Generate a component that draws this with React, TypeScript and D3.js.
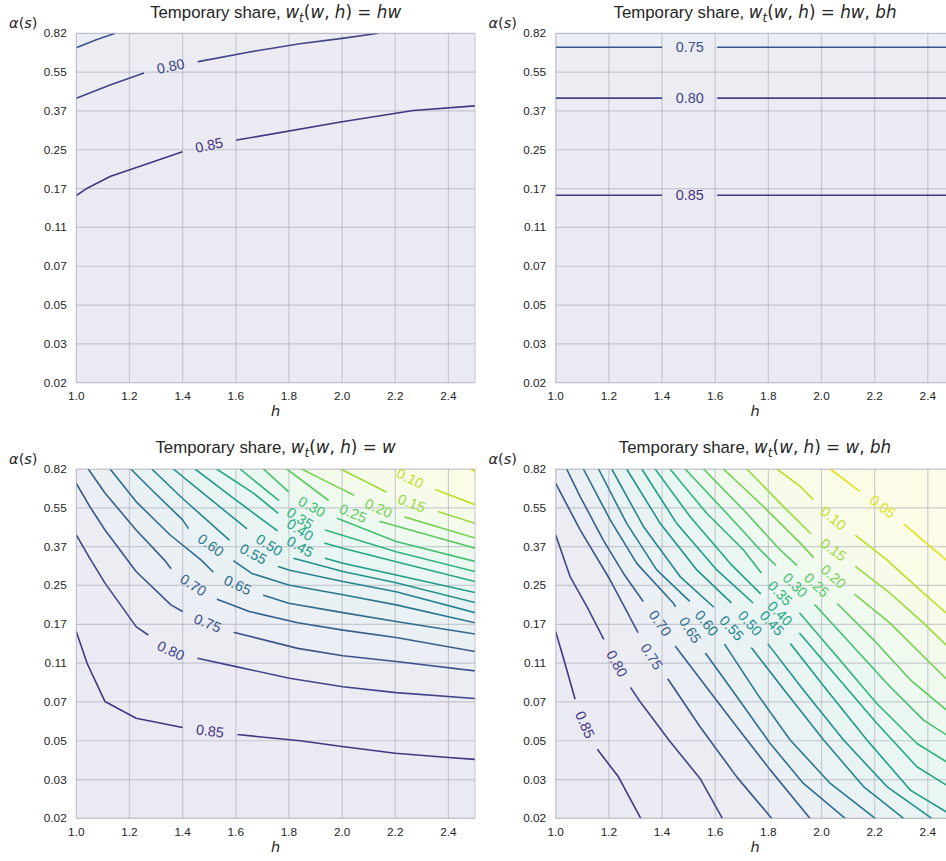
import * as d3 from 'd3';

type Pt = [number, number];
interface ContourLine {
  level: number;
  pts: Pt[];
  label?: Pt;
}

// x axis: h, y axis: position on the alpha(s) grid (10 points)
const hTicks = [1.0, 1.2, 1.4, 1.6, 1.8, 2.0, 2.2, 2.4];
const hDomain: [number, number] = [1.0, 2.5];
const alphaTickLabels = ['0.02', '0.03', '0.05', '0.07', '0.11', '0.17', '0.25', '0.37', '0.55', '0.82'];

// contour lines, points are [h, alpha grid position]
const linesHW: ContourLine[] = [
  { level: 0.75, pts: [[1.0, 8.63], [1.07, 8.82], [1.146, 9.0]] },
  { level: 0.8, pts: [[1.0, 7.33], [1.127, 7.67], [1.252, 7.97], [1.355, 8.15], [1.459, 8.27], [1.652, 8.52], [1.841, 8.73], [2.0, 8.87], [2.137, 9.0]], label: [1.355, 8.15] },
  { level: 0.85, pts: [[1.0, 4.82], [1.041, 5.01], [1.127, 5.31], [1.4, 5.95], [1.5, 6.12], [1.604, 6.25], [2.0, 6.72], [2.268, 7.01], [2.5, 7.13]], label: [1.5, 6.12] },
];

const linesHWBH: ContourLine[] = [
  { level: 0.75, pts: [[1.0, 8.64], [2.5, 8.64]], label: [1.504, 8.64] },
  { level: 0.8, pts: [[1.0, 7.33], [2.5, 7.33]], label: [1.504, 7.33] },
  { level: 0.85, pts: [[1.0, 4.83], [2.5, 4.83]], label: [1.504, 4.83] },
];

const linesW: ContourLine[] = [
  { level: 0.85, pts: [[1.0, 4.81], [1.041, 3.99], [1.108, 3.01], [1.225, 2.58], [1.4, 2.34], [1.503, 2.25], [1.606, 2.16], [1.842, 2.0], [2.0, 1.85], [2.2, 1.68], [2.4, 1.57], [2.5, 1.52]], label: [1.503, 2.25] },
  { level: 0.8, pts: [[1.0, 7.3], [1.051, 6.7], [1.108, 6.06], [1.225, 4.94], [1.269, 4.73], [1.356, 4.32], [1.46, 4.12], [1.601, 3.91], [1.802, 3.61], [2.003, 3.39], [2.203, 3.24], [2.5, 3.09]], label: [1.356, 4.32] },
  { level: 0.75, pts: [[1.0, 8.63], [1.051, 8.03], [1.108, 7.43], [1.225, 6.36], [1.356, 5.5], [1.4, 5.33], [1.494, 5.03], [1.595, 4.79], [1.833, 4.38], [2.003, 4.19], [2.203, 4.04], [2.5, 3.8]], label: [1.494, 5.03] },
  { level: 0.7, pts: [[1.045, 9.0], [1.108, 8.38], [1.225, 7.43], [1.331, 6.66], [1.356, 6.44], [1.44, 6.01], [1.532, 5.64], [1.651, 5.33], [1.833, 5.04], [2.003, 4.85], [2.203, 4.66], [2.5, 4.3]], label: [1.44, 6.01] },
  { level: 0.65, pts: [[1.127, 9.0], [1.225, 8.16], [1.353, 7.3], [1.469, 6.66], [1.513, 6.36], [1.607, 6.01], [1.708, 5.74], [1.799, 5.54], [2.003, 5.3], [2.203, 5.07], [2.5, 4.75]], label: [1.607, 6.01] },
  { level: 0.6, pts: [[1.205, 9.0], [1.29, 8.42], [1.4, 7.69], [1.422, 7.47], [1.506, 7.04], [1.595, 6.62], [1.66, 6.31], [1.799, 6.01], [2.003, 5.76], [2.203, 5.5], [2.5, 5.04]], label: [1.506, 7.04] },
  { level: 0.55, pts: [[1.284, 9.0], [1.4, 8.24], [1.576, 7.17], [1.666, 6.81], [1.76, 6.49], [1.799, 6.4], [2.003, 6.1], [2.203, 5.84], [2.5, 5.3]], label: [1.666, 6.81] },
  { level: 0.5, pts: [[1.365, 9.0], [1.516, 8.16], [1.647, 7.43], [1.726, 7.04], [1.817, 6.7], [2.003, 6.36], [2.203, 6.07], [2.5, 5.56]], label: [1.726, 7.04] },
  { level: 0.45, pts: [[1.447, 9.0], [1.591, 8.25], [1.76, 7.39], [1.842, 7.0], [1.936, 6.7], [2.003, 6.57], [2.203, 6.27], [2.5, 5.82]], label: [1.842, 7.0] },
  { level: 0.4, pts: [[1.528, 9.0], [1.666, 8.38], [1.767, 7.82], [1.842, 7.43], [1.936, 7.09], [2.003, 6.96], [2.203, 6.61], [2.5, 6.1]], label: [1.842, 7.43] },
  { level: 0.35, pts: [[1.616, 9.0], [1.767, 8.16], [1.842, 7.73], [1.936, 7.43], [2.203, 6.87], [2.5, 6.36]], label: [1.842, 7.73] },
  { level: 0.3, pts: [[1.704, 9.0], [1.804, 8.38], [1.886, 8.03], [1.981, 7.73], [2.203, 7.13], [2.5, 6.62]], label: [1.886, 8.03] },
  { level: 0.25, pts: [[1.792, 9.0], [1.955, 8.16], [2.041, 7.86], [2.143, 7.65], [2.344, 7.26], [2.5, 6.96]], label: [2.041, 7.86] },
  { level: 0.2, pts: [[1.848, 9.0], [1.955, 8.63], [2.043, 8.33], [2.137, 7.99], [2.237, 7.76], [2.5, 7.22]], label: [2.137, 7.99] },
  { level: 0.15, pts: [[1.995, 9.0], [2.162, 8.42], [2.262, 8.12], [2.363, 7.9], [2.5, 7.6]], label: [2.262, 8.12] },
  { level: 0.1, pts: [[2.193, 9.0], [2.256, 8.76], [2.356, 8.46], [2.5, 8.08]], label: [2.256, 8.76] },
  { level: 0.05, pts: [[2.485, 9.0], [2.5, 8.93]] },
];

const linesWBH: ContourLine[] = [
  { level: 0.85, pts: [[1.0, 4.81], [1.035, 3.99], [1.073, 3.07], [1.11, 2.41], [1.161, 1.74], [1.236, 1.07], [1.32, 0.0]], label: [1.11, 2.41] },
  { level: 0.8, pts: [[1.0, 7.3], [1.054, 6.23], [1.117, 5.46], [1.179, 4.64], [1.23, 3.99], [1.282, 3.37], [1.317, 3.01], [1.43, 1.98], [1.543, 1.03], [1.627, 0.0]], label: [1.23, 3.99] },
  { level: 0.75, pts: [[1.0, 8.63], [1.092, 7.43], [1.205, 6.14], [1.311, 4.77], [1.361, 4.17], [1.424, 3.57], [1.543, 2.36], [1.681, 1.07], [1.813, 0.0]], label: [1.361, 4.17] },
  { level: 0.7, pts: [[1.041, 9.0], [1.092, 8.29], [1.179, 7.17], [1.255, 6.31], [1.33, 5.58], [1.393, 5.03], [1.453, 4.41], [1.556, 3.48], [1.681, 2.36], [1.807, 1.25], [1.957, 0.0]], label: [1.393, 5.03] },
  { level: 0.65, pts: [[1.104, 9.0], [1.205, 7.69], [1.305, 6.57], [1.443, 5.54], [1.506, 4.85], [1.562, 4.27], [1.681, 3.14], [1.807, 1.93], [1.932, 0.9], [2.089, 0.0]], label: [1.506, 4.85] },
  { level: 0.6, pts: [[1.161, 9.0], [1.267, 7.6], [1.38, 6.4], [1.512, 5.54], [1.568, 5.03], [1.637, 4.47], [1.757, 3.22], [1.882, 2.02], [2.033, 0.9], [2.202, 0.0]], label: [1.568, 5.03] },
  { level: 0.55, pts: [[1.211, 9.0], [1.33, 7.52], [1.468, 6.23], [1.606, 5.37], [1.662, 4.9], [1.738, 4.38], [1.87, 3.22], [2.008, 2.02], [2.158, 0.82], [2.309, 0.0]], label: [1.662, 4.9] },
  { level: 0.5, pts: [[1.267, 9.0], [1.393, 7.6], [1.531, 6.4], [1.675, 5.46], [1.731, 5.03], [1.801, 4.47], [1.932, 3.31], [2.083, 2.02], [2.246, 0.82], [2.415, 0.0]], label: [1.731, 5.03] },
  { level: 0.45, pts: [[1.324, 9.0], [1.455, 7.6], [1.606, 6.4], [1.757, 5.46], [1.813, 5.03], [1.882, 4.51], [2.02, 3.31], [2.171, 2.02], [2.334, 0.73], [2.5, 0.04]], label: [1.813, 5.03] },
  { level: 0.4, pts: [[1.374, 9.0], [1.506, 7.77], [1.656, 6.57], [1.794, 5.63], [1.844, 5.28], [1.913, 4.81], [2.058, 3.65], [2.208, 2.45], [2.359, 1.33], [2.5, 0.73]], label: [1.844, 5.28] },
  { level: 0.35, pts: [[1.43, 9.0], [1.568, 7.86], [1.706, 6.92], [1.794, 6.14], [1.844, 5.8], [1.913, 5.33], [2.058, 4.17], [2.208, 2.96], [2.359, 1.93], [2.5, 1.33]], label: [1.844, 5.8] },
  { level: 0.3, pts: [[1.487, 9.0], [1.631, 7.95], [1.769, 6.92], [1.851, 6.36], [1.901, 6.01], [1.97, 5.54], [2.108, 4.51], [2.258, 3.39], [2.384, 2.53], [2.5, 2.02]], label: [1.901, 6.01] },
  { level: 0.25, pts: [[1.556, 9.0], [1.706, 7.95], [1.844, 6.92], [1.932, 6.36], [1.982, 6.01], [2.058, 5.54], [2.196, 4.6], [2.334, 3.57], [2.5, 2.62]], label: [1.982, 6.01] },
  { level: 0.2, pts: [[1.631, 9.0], [1.782, 8.03], [1.92, 7.09], [1.995, 6.53], [2.045, 6.23], [2.12, 5.8], [2.258, 5.03], [2.384, 4.17], [2.5, 3.39]], label: [2.045, 6.23] },
  { level: 0.15, pts: [[1.719, 9.0], [1.844, 8.12], [1.957, 7.35], [1.995, 7.17], [2.045, 6.92], [2.12, 6.53], [2.258, 5.8], [2.384, 5.03], [2.5, 4.26]], label: [2.045, 6.92] },
  { level: 0.1, pts: [[1.832, 9.0], [1.92, 8.55], [1.982, 8.12], [2.045, 7.73], [2.127, 7.3], [2.246, 6.66], [2.371, 5.88], [2.5, 5.11]], label: [2.045, 7.73] },
  { level: 0.05, pts: [[2.033, 9.0], [2.139, 8.45], [2.23, 8.03], [2.309, 7.59], [2.469, 6.66], [2.5, 6.49]], label: [2.23, 8.03] },
];

// title pieces: r = text font, i = math italic, m = math upright, sub = subscript
type Seg = [string, string];
const titleHead: Seg[] = [['Temporary share, ', 'r'], ['w', 'i'], ['t', 'sub'], ['(', 'm'], ['w', 'i'], [', ', 'm'], ['h', 'i'], [')', 'm'], [' = ', 'm']];
const titleHW: Seg[] = [...titleHead, ['hw', 'i']];
const titleHWBH: Seg[] = [...titleHead, ['hw', 'i'], [', ', 'm'], ['bh', 'i']];
const titleW: Seg[] = [...titleHead, ['w', 'i']];
const titleWBH: Seg[] = [...titleHead, ['w', 'i'], [', ', 'm'], ['bh', 'i']];
const alphaLabel: Seg[] = [['α', 'i'], ['(', 'm'], ['s', 'i'], [')', 'm']];

const W = 398.7;
const H = 349.4;
const GAP = 27.5;
const SANS = '"Liberation Sans", Arial, Helvetica, sans-serif';
const MATH = '"DejaVu Sans", sans-serif';
const TXT = '#262626';
const BG = '#eaeaf2';
const GRID = 'rgba(170,170,182,0.55)';

const renderSegs = (segs: Seg[]) => {
  let shifted = false;
  return segs.map(([t, kind], i) => {
    let dy: number | undefined;
    if (kind === 'sub') { dy = 4; shifted = true; }
    else if (shifted) { dy = -4; shifted = false; }
    return (
      <tspan key={i} dy={dy}
        fontFamily={kind === 'r' ? SANS : MATH}
        fontStyle={kind === 'i' || kind === 'sub' ? 'italic' : 'normal'}
        fontSize={kind === 'sub' ? '0.72em' : undefined}>{t}</tspan>
    );
  });
};

// position of a boundary point around the panel, counter-clockwise from bottom-left
const edgeParam = ([h, a]: Pt) => {
  if (Math.abs(a) < 1e-3) return (h - 1) / 1.5;
  if (Math.abs(h - 2.5) < 1e-3) return 1 + a / 9;
  if (Math.abs(a - 9) < 1e-3) return 2 + (2.5 - h) / 1.5;
  return 3 + (9 - a) / 9;
};
const corners: [number, Pt][] = [[1, [2.5, 0]], [2, [2.5, 9]], [3, [1, 9]], [4, [1, 0]], [5, [2.5, 0]], [6, [2.5, 9]], [7, [1, 9]]];

// region where the value is below the line level (upper right side)
const regionBelow = (pts: Pt[]): Pt[] => {
  const te = edgeParam(pts[pts.length - 1]);
  let ts = edgeParam(pts[0]);
  if (ts <= te) ts += 4;
  const extra = corners.filter(([t]) => t > te && t < ts).map(([, c]) => c);
  return [...pts, ...extra];
};

const cutAtLabel = (px: Pt[], lab: Pt) => {
  const cum = [0];
  for (let i = 1; i < px.length; i++) cum.push(cum[i - 1] + Math.hypot(px[i][0] - px[i - 1][0], px[i][1] - px[i - 1][1]));
  let best = Infinity;
  let s0 = 0;
  for (let i = 1; i < px.length; i++) {
    const [x1, y1] = px[i - 1];
    const dx = px[i][0] - x1, dy = px[i][1] - y1;
    const L2 = dx * dx + dy * dy;
    let t = L2 > 0 ? ((lab[0] - x1) * dx + (lab[1] - y1) * dy) / L2 : 0;
    t = Math.max(0, Math.min(1, t));
    const d = Math.hypot(x1 + t * dx - lab[0], y1 + t * dy - lab[1]);
    if (d < best) { best = d; s0 = cum[i - 1] + t * Math.sqrt(L2); }
  }
  const total = cum[cum.length - 1];
  const at = (s: number): Pt => {
    for (let i = 1; i < px.length; i++) {
      if (cum[i] >= s) {
        const seg = cum[i] - cum[i - 1];
        const t = seg > 0 ? (s - cum[i - 1]) / seg : 0;
        return [px[i - 1][0] + t * (px[i][0] - px[i - 1][0]), px[i - 1][1] + t * (px[i][1] - px[i - 1][1])];
      }
    }
    return px[px.length - 1];
  };
  const a = Math.max(0, s0 - GAP), b = Math.min(total, s0 + GAP);
  const pa = at(a), pb = at(b);
  const before = px.filter((_, i) => cum[i] < a).concat([pa]);
  const after = [pb].concat(px.filter((_, i) => cum[i] > b));
  let angle = (Math.atan2(pb[1] - pa[1], pb[0] - pa[0]) * 180) / Math.PI;
  if (angle > 90) angle -= 180;
  if (angle < -90) angle += 180;
  return { parts: [before, after], center: at(s0), angle };
};

const Panel = ({ id, left, top, lines, title }: { id: string; left: number; top: number; lines: ContourLine[]; title: Seg[] }) => {
  const x = d3.scaleLinear().domain(hDomain).range([0, W]);
  const y = d3.scaleLinear().domain([0, alphaTickLabels.length - 1]).range([H, 0]);
  const toPx = (p: Pt): Pt => [x(p[0]), y(p[1])];
  const line = d3.line();
  const color = (v: number) => d3.interpolateViridis(1 - v);
  const fill = (v: number) => d3.interpolateRgb('#ffffff', color(v))(0.1);
  const sorted = [...lines].sort((p, q) => q.level - p.level);

  const drawn = sorted.map((l) => {
    const px = l.pts.map(toPx);
    if (!l.label) return { l, parts: [px], lab: null as null | { center: Pt; angle: number } };
    const c = cutAtLabel(px, toPx(l.label));
    return { l, parts: c.parts, lab: { center: c.center, angle: c.angle } };
  });

  return (
    <g transform={`translate(${left},${top})`}>
      <defs>
        <clipPath id={`clip-${id}`}><rect width={W} height={H} /></clipPath>
      </defs>
      <g clipPath={`url(#clip-${id})`}>
        <rect width={W} height={H} fill={BG} />
        {sorted.map((l, i) => (
          <path key={`f${i}`} d={line(regionBelow(l.pts).map(toPx)) + 'Z'} fill={fill(l.level - 0.025)} />
        ))}
        {hTicks.map((t) => (
          <line key={`gx${t}`} x1={x(t)} x2={x(t)} y1={0} y2={H} stroke={GRID} strokeWidth={1.2} />
        ))}
        {alphaTickLabels.map((_, i) => (
          <line key={`gy${i}`} x1={0} x2={W} y1={y(i)} y2={y(i)} stroke={GRID} strokeWidth={1.2} />
        ))}
        {drawn.map(({ l, parts }, i) =>
          parts.filter((p) => p.length > 1).map((p, j) => (
            <path key={`l${i}-${j}`} d={line(p) || ''} fill="none" stroke={color(l.level)} strokeWidth={1.6} strokeLinejoin="round" />
          ))
        )}
        {drawn.map(({ l, lab }, i) =>
          lab ? (
            <text key={`t${i}`} x={lab.center[0]} y={lab.center[1]} transform={`rotate(${lab.angle},${lab.center[0]},${lab.center[1]})`}
              textAnchor="middle" dominantBaseline="central" fontFamily={SANS} fontSize={14.4} fill={color(l.level)}>
              {l.level.toFixed(2)}
            </text>
          ) : null
        )}
      </g>
      <rect width={W} height={H} fill="none" stroke={GRID} strokeWidth={1.2} />
      {hTicks.map((t) => (
        <text key={`xt${t}`} x={x(t)} y={H + 17.8} textAnchor="middle" fontFamily={SANS} fontSize={11.8} fill={TXT}>{t.toFixed(1)}</text>
      ))}
      {alphaTickLabels.map((t, i) => (
        <text key={`yt${i}`} x={-9.6} y={y(i)} textAnchor="end" dominantBaseline="central" fontFamily={SANS} fontSize={11.8} fill={TXT}>{t}</text>
      ))}
      <text x={W / 2} y={-15.8} textAnchor="middle" fontSize={16.8} fill={TXT} style={{ whiteSpace: 'pre' }}>{renderSegs(title)}</text>
      <text x={-53} y={-5} textAnchor="middle" fontSize={14.5} fill={TXT} style={{ whiteSpace: 'pre' }}>{renderSegs(alphaLabel)}</text>
      <text x={W / 2} y={H + 33.8} textAnchor="middle" fontFamily={MATH} fontStyle="italic" fontSize={14.5} fill={TXT}>h</text>
    </g>
  );
};

export default function App() {
  return (
    <svg width={946} height={861} style={{ position: 'absolute', left: 0, top: 0, background: '#ffffff' }}>
      <Panel id="hw" left={76.3} top={33.3} lines={linesHW} title={titleHW} />
      <Panel id="hwbh" left={555.7} top={33.3} lines={linesHWBH} title={titleHWBH} />
      <Panel id="w" left={76.3} top={469} lines={linesW} title={titleW} />
      <Panel id="wbh" left={555.7} top={469} lines={linesWBH} title={titleWBH} />
    </svg>
  );
}
